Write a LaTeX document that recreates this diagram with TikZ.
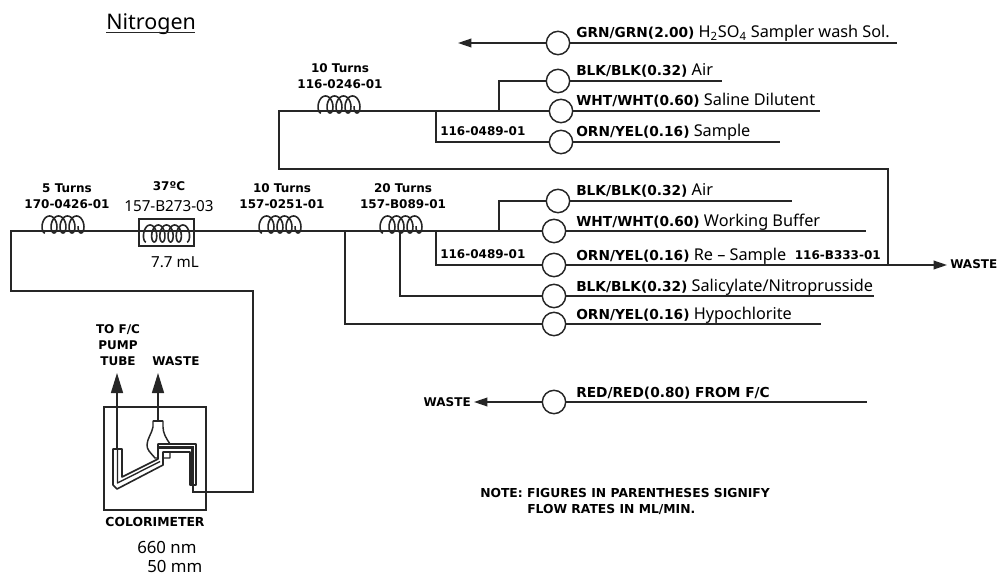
\documentclass[tikz,border=0pt]{standalone}
\usepackage{fontspec}
\setmainfont{DejaVu Sans}
\newfontfamily\regf{Noto Sans}
\usetikzlibrary{arrows.meta}
\newcommand{\bl}[1]{{\fontsize{10.3}{11}\selectfont\rmfamily\bfseries #1}}
\tikzset{
 x=0.75pt,y=-0.75pt,
 pipe/.style={line width=1.1pt,black!85},
 pump/.style={circle,draw=black!85,line width=1.1pt,fill=white,minimum size=17.5pt,inner sep=0pt},
 lbl/.style={anchor=base west,inner sep=0pt,font=\fontsize{12.2}{13}\selectfont\regf},
 clbl/.style={align=center,inner sep=0pt,font=\fontsize{9}{12}\selectfont\bfseries},
 big/.style={inner sep=0pt,font=\fontsize{11.4}{13}\selectfont\regf},
 bigger/.style={inner sep=0pt,font=\fontsize{12.6}{14}\selectfont\regf},
 tipend/.style={-{Triangle[length=10pt,width=6.5pt]}},
 tipbig/.style={-{Triangle[length=15pt,width=9pt]}},
 coilline/.style={line width=1.2pt,black!85},
}
\newcommand{\coil}[3]{% x start, y, width
 \draw[coilline] plot[smooth,samples=160,domain=0:1] ({#1+#3*\x-5*sin(\x*360*#3/9)},{#2-8.5+8.5*cos(\x*360*#3/9)});
}
\begin{document}
\begin{tikzpicture}
\useasboundingbox (0,0) rectangle (998,577);
% pumps
\node[pump] (g) at (558,43) {};
\node[pump] (a1) at (558,81) {};
\node[pump] (w1) at (561,111) {};
\node[pump] (s1) at (561,142) {};
\node[pump] (a2) at (558,201) {};
\node[pump] (w2) at (554,231) {};
\node[pump] (s2) at (554,265) {};
\node[pump] (b2) at (554,296) {};
\node[pump] (o2) at (554,324) {};
\node[pump] (r) at (554,402) {};
% free ends
\coordinate (gL) at (458,43); \coordinate (gR) at (897,43);
\coordinate (a1R) at (722,81); \coordinate (w1R) at (820,111); \coordinate (s1R) at (780,142);
\coordinate (a2R) at (792,201); \coordinate (w2R) at (866,231); \coordinate (s2R) at (947,265);
\coordinate (b2R) at (874,296); \coordinate (o2R) at (821,324);
\coordinate (rL) at (474,402); \coordinate (rR) at (867,402);
\draw[pipe,tipend] (g) -- (gL);
\draw[pipe] (g) -- (gR);
\draw[pipe] (a1) -- (a1R); \draw[pipe] (w1) -- (w1R); \draw[pipe] (s1) -- (s1R);
\draw[pipe] (a2) -- (a2R); \draw[pipe] (w2) -- (w2R);
\draw[pipe,tipend] (s2) -- (s2R);
\draw[pipe] (b2) -- (b2R); \draw[pipe] (o2) -- (o2R);
\draw[pipe] (r) -- (rR); \draw[pipe,tipend] (r) -- (rL);
% upper manifold
\draw[pipe] (a1) -| (499,111);
\draw[pipe] (s1) -| (436,111);
\draw[pipe] (w1) -- (279,111) -- (279,169) -- (888,169) -- (888,265);
% lower manifold
\draw[pipe] (a2) -| (499,231);
\draw[pipe] (s2) -| (436,231);
\draw[pipe] (b2) -| (400,231);
\draw[pipe] (o2) -| (345,231);
\draw[pipe] (w2) -- (11,231) -- (11,291) -- (253,291) -- (253,492) -- (193,492) -- (193,480);
% coils
\coil{45}{233}{38}
\coil{262}{233}{38}
\coil{383}{233}{38}
\coil{321}{113}{38}
% heater
\draw[line width=1.4pt,black!85,fill=white] (139,219) rectangle (194,246);
\draw[pipe] (125,231) -- (206,231);
\draw[coilline] plot[smooth,samples=180,domain=0:1] ({146+41*\x-4.4*sin(\x*360*5)},{233.5+8.5*cos(\x*360*5)});
% colorimeter
\draw[line width=1.3pt,black!85] (104,407) rectangle (206,510);
% bulb
\draw[line width=1.1pt,black!85,fill=white,line join=round] (153,421) -- (153,427) .. controls (152,433) and (147,439) .. (147,445) .. controls (147,450) and (150,452) .. (155,458) -- (170,458) -- (170,444) .. controls (166,438) and (163,433) .. (163,427) -- (163,421) -- cycle;
% cell outer
\draw[line width=1.2pt,black!85,fill=white,line join=round] (113,449) -- (113,485) -- (117,489) -- (163,465) -- (163,452) -- (190,452) -- (190,485) -- (196,485) -- (196,444) -- (158,444) -- (158,459) -- (122,477) -- (122,449) -- cycle;
% cell inner
\draw[line width=1pt,black!85,line join=round] (117.5,449) -- (117.5,483) -- (160,461.5);
\draw[line width=2.4pt,black!85,line join=miter] (158,447.5) -- (192.5,447.5) -- (192.5,484);
\draw[line width=2pt,black!85] (113,449) -- (122,449);
\draw[line width=2pt,black!85] (153,421) -- (163,421);
\draw[pipe,tipbig] (117,449) -- (117,373);
\draw[pipe,tipbig] (158,421) -- (158,373);
% texts
\node[anchor=base west,inner sep=0pt,font=\fontsize{16.1}{18}\selectfont\regf] (ttl) at (106,30) {Nitrogen};
\draw[line width=0.8pt,black!85] (ttl.base west)+(0,2.5) -- +(89,2.5);
\node[lbl] (tg) at (576,38) {\bl{GRN/GRN(2.00)} H\textsubscript{2}SO\textsubscript{4} Sampler wash Sol.};
\node[lbl] (t1) at (576,76) {\bl{BLK/BLK(0.32)} Air};
\node[lbl] (t2) at (576,106) {\bl{WHT/WHT(0.60)} Saline Dilutent};
\node[lbl] (t3) at (576,137) {\bl{ORN/YEL(0.16)} Sample};
\node[lbl] (t4) at (576,196) {\bl{BLK/BLK(0.32)} Air};
\node[lbl] (t5) at (576,226) {\bl{WHT/WHT(0.60)} Working Buffer};
\node[lbl] (t6) at (576,260) {\bl{ORN/YEL(0.16)} Re – Sample};
\node[lbl] (t7) at (576,291) {\bl{BLK/BLK(0.32)} Salicylate/Nitroprusside};
\node[lbl] (t8) at (576,319) {\bl{ORN/YEL(0.16)} Hypochlorite};
\node[lbl] (t9) at (576,397) {\bl{RED/RED(0.80) FROM F/C}};
\node[clbl] (c1) at (67,196) {5 Turns\\170-0426-01};
\node[clbl] (c2) at (282,196) {10 Turns\\157-0251-01};
\node[clbl] (c3) at (403,196) {20 Turns\\157-B089-01};
\node[clbl] (c4) at (340,76) {10 Turns\\116-0246-01};
\node[clbl,anchor=base] (c5) at (169,191) {37ºC};
\node[big,anchor=base] (c6) at (169,212) {157-B273-03};
\node[big,anchor=base] (c7) at (175,267) {7.7 mL};
\node[clbl,anchor=base west] (p1) at (440,136) {116-0489-01};
\node[clbl,anchor=base west] (p2) at (440,258) {116-0489-01};
\node[clbl,anchor=base east] (p3) at (881,259) {116-B333-01};
\node[clbl,anchor=base west] (w1t) at (950,268) {WASTE};
\node[clbl,anchor=base east] (w2t) at (471,406) {WASTE};
\node[clbl,anchor=base] (cf1) at (118,333) {TO F/C};
\node[clbl,anchor=base] (cf2) at (118,349) {PUMP};
\node[clbl,anchor=base] (cf3) at (118,365) {TUBE};
\node[clbl,anchor=base] (w3t) at (176,365) {WASTE};
\node[clbl,anchor=base,font=\fontsize{9.3}{12}\selectfont\bfseries] (col) at (155,526) {COLORIMETER};
\node[bigger,anchor=base west] (nm) at (137,553) {660 nm};
\node[bigger,anchor=base west] (mm) at (147,572) {50 mm};
\node[clbl,align=left,anchor=base west,font=\fontsize{9.25}{12}\selectfont\bfseries] (note) at (480,497) {NOTE: FIGURES IN PARENTHESES SIGNIFY};
\node[clbl,align=left,anchor=base west,font=\fontsize{9.25}{12}\selectfont\bfseries] (note2) at (527,513) {FLOW RATES IN ML/MIN.};
\end{tikzpicture}
\end{document}
